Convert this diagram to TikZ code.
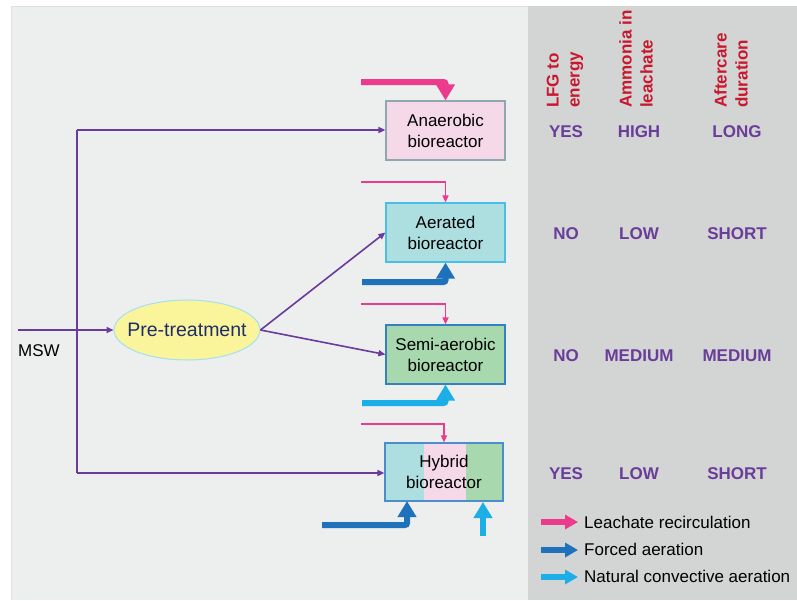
\documentclass[tikz,border=0pt]{standalone}
\usepackage{fontspec}
\setmainfont{Liberation Sans}
\usetikzlibrary{arrows.meta,shapes.geometric}
\definecolor{panelA}{HTML}{EDEEEE}
\definecolor{panelB}{HTML}{D3D4D4}
\definecolor{msw}{HTML}{6A3A9C}
\definecolor{leach}{HTML}{EC3A8C}
\definecolor{forced}{HTML}{1E72BC}
\definecolor{natural}{HTML}{1CAEE6}
\definecolor{hdr}{HTML}{C8182E}
\definecolor{val}{HTML}{6A3D9A}
\definecolor{pinkfill}{HTML}{F5D9E8}
\definecolor{cyanfill}{HTML}{ADDEE0}
\definecolor{greenfill}{HTML}{A8D8AD}
\definecolor{yellowfill}{HTML}{FAF49A}
\definecolor{navy}{HTML}{1F2D6B}
\definecolor{anaborder}{HTML}{8FA8B0}
\begin{document}
\begin{tikzpicture}[x=1pt,y=-1pt,
  txt/.style={font=\fontsize{17}{21}\selectfont},
  reactor/.style={draw, line width=1.2pt, minimum width=119pt, minimum height=59pt, inner sep=0pt, align=center, txt},
  flow/.style={msw, line width=1.6pt, -{Triangle[width=6pt,length=7pt]}},
  thinleach/.style={leach, line width=1.6pt, -{Triangle[width=6pt,length=7pt]}},
  fatarrow/.style={line width=6pt, rounded corners=2pt, -{Triangle[width=18pt,length=16pt]}},
  legarrow/.style={line width=6pt, -{Triangle[width=14pt,length=13pt]}},
  hdrtxt/.style={font=\fontsize{17}{21}\selectfont\bfseries, text=hdr, rotate=90, anchor=west, align=left, inner sep=0pt},
  valtxt/.style={font=\fontsize{17}{21}\selectfont\bfseries, text=val}
]
\useasboundingbox (0,0) rectangle (797,600);
\fill[white] (0,0) rectangle (797,600);
\fill[panelA] (11,6) rectangle (528,600);
\draw[black!12, line width=1pt] (11,600) -- (11,6) -- (528,6);
\fill[panelB] (528,6) rectangle (797,600);

% reactors
\node[reactor, fill=pinkfill, draw=anaborder] (ana) at (445.5,130.5) {Anaerobic\\bioreactor};
\node[reactor, fill=cyanfill, draw=natural!80] (aer) at (445.5,232.5) {Aerated\\bioreactor};
\node[reactor, fill=greenfill, draw=forced!90] (semi) at (445.5,354.5) {Semi-aerobic\\bioreactor};
\fill[cyanfill] (385,443) rectangle (424,501);
\fill[pinkfill] (424,443) rectangle (466,501);
\fill[greenfill] (466,443) rectangle (503,501);
\node[reactor, draw=forced!80, minimum width=118pt, minimum height=58pt] (hyb) at (444,472) {Hybrid\\bioreactor};

% pre-treatment
\node[ellipse, draw=natural!40, line width=1pt, fill=yellowfill, minimum width=146pt, minimum height=60pt, inner sep=0pt,
  label={[text=navy, font=\fontsize{19.5}{23}\selectfont, inner sep=0pt]center:Pre-treatment}] (pre) at (187,330) {};
\node[txt, anchor=west, inner sep=0pt] (msw) at (18,351) {MSW};
\coordinate (mswin) at (18,330);
\coordinate (top) at (77,130);
\coordinate (bot) at (77,473);

% main flows
\draw[flow] (mswin) -- (pre.west);
\draw[msw, line width=1.6pt] (top) -- (bot);
\draw[flow] (top) -- (ana.west |- top);
\draw[flow] (bot) -- (hyb.west |- bot);
\draw[flow] (pre.east) -- (aer.west);
\draw[flow] (pre.east) -- (semi.west);

% leachate recirculation
\coordinate (l1) at (361,82);
\draw[leach, fatarrow] (l1) -| (ana.north);
\coordinate (l2) at (361,182);
\draw[thinleach] (l2) -| (aer.north);
\coordinate (l3) at (361,304);
\draw[thinleach] (l3) -| (semi.north);
\coordinate (l4) at (361,424);
\draw[thinleach] (l4) -| (hyb.north);

% aeration
\coordinate (f1) at (362,282);
\draw[forced, fatarrow] (f1) -| (aer.south);
\coordinate (n1) at (362,403);
\draw[natural, fatarrow] (n1) -| (semi.south);
\coordinate (f2) at (322,525);
\coordinate (f2t) at (407,501);
\draw[forced, fatarrow] (f2) -| (f2t);
\coordinate (n2) at (483,536);
\coordinate (n2t) at (483,502);
\draw[natural, fatarrow] (n2) -- (n2t);

% headers
\node[hdrtxt] (h1) at (565,108) {LFG to\\energy};
\node[hdrtxt] (h2) at (636,108) {Ammonia in\\leachate};
\node[hdrtxt] (h3) at (731,108) {Aftercare\\duration};

% values
\node[valtxt] (v11) at (566,132) {YES};
\node[valtxt] (v12) at (639,132) {HIGH};
\node[valtxt] (v13) at (737,132) {LONG};
\node[valtxt] (v21) at (566,234) {NO};
\node[valtxt] (v22) at (639,234) {LOW};
\node[valtxt] (v23) at (737,234) {SHORT};
\node[valtxt] (v31) at (566,356) {NO};
\node[valtxt] (v32) at (639,356) {MEDIUM};
\node[valtxt] (v33) at (737,356) {MEDIUM};
\node[valtxt] (v41) at (566,474) {YES};
\node[valtxt] (v42) at (639,474) {LOW};
\node[valtxt] (v43) at (737,474) {SHORT};

% legend
\coordinate (a1) at (541,522); \coordinate (b1) at (578,522);
\coordinate (a2) at (541,550); \coordinate (b2) at (578,550);
\coordinate (a3) at (541,577); \coordinate (b3) at (578,577);
\draw[leach, legarrow] (a1) -- (b1);
\draw[forced, legarrow] (a2) -- (b2);
\draw[natural, legarrow] (a3) -- (b3);
\node[txt, anchor=west, inner sep=0pt] (t1) at (584,522) {Leachate recirculation};
\node[txt, anchor=west, inner sep=0pt] (t2) at (584,549) {Forced aeration};
\node[txt, anchor=west, inner sep=0pt] (t3) at (584,576) {Natural convective aeration};
\end{tikzpicture}
\end{document}
